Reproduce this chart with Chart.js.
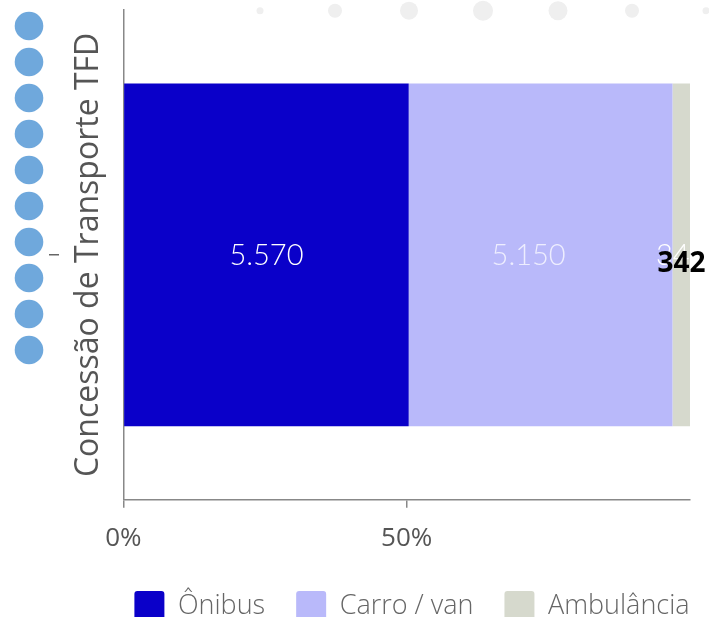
<!DOCTYPE html>
<html>
<head>
<meta charset="utf-8">
<script src="https://cdn.jsdelivr.net/npm/chart.js@4/dist/chart.umd.min.js"></script>
<style>
  html, body { margin: 0; padding: 0; background: #fff; }
  #wrap { width: 709px; height: 617px; position: relative; overflow: hidden; }
</style>
</head>
<body>
<div id="wrap"><canvas id="chart"></canvas></div>
<script>
const categories = ['Concessão de Transporte TFD'];
const seriesNames = ['Ônibus', 'Carro / van', 'Ambulância'];
const onibus = [5570];
const carroVan = [5150];
const ambulancia = [342];
const xTickValues = [0, 50];

const colors = ['#0a00c9', '#b9b9fa', '#d6d9cd'];
const raw = [onibus, carroVan, ambulancia];
const totals = categories.map((c, i) => raw.reduce((s, arr) => s + arr[i], 0));

const fmt = v => v.toLocaleString('pt-BR');

// decorations: blue dots column, grey dots on top, tiny dash
const decor = {
  id: 'decor',
  beforeDraw(chart) {
    const ctx = chart.ctx;
    ctx.save();
    ctx.fillStyle = '#6fa8dc';
    for (let i = 0; i < 10; i++) {
      ctx.beginPath();
      ctx.arc(29, 26 + i * 36, 14.3, 0, Math.PI * 2);
      ctx.fill();
    }
    ctx.fillStyle = '#efefef';
    const greys = [[260, 3.5], [335, 7], [409, 9], [483, 10], [558, 9.5], [632, 7], [706, 3.5]];
    greys.forEach(g => {
      ctx.beginPath();
      ctx.arc(g[0], 10.7, g[1], 0, Math.PI * 2);
      ctx.fill();
    });
    ctx.fillStyle = '#666';
    ctx.fillRect(49, 254, 10, 1.5);
    ctx.restore();
  }
};

// move the legend up and to the right, like in the original
const legendShift = {
  id: 'legendShift',
  afterLayout(chart) {
    chart.legend.top -= 9;
    chart.legend.bottom -= 9;
    chart.legend.left += 32;
    chart.legend.right += 32;
  }
};

// value labels on the bars
const valueLabels = {
  id: 'valueLabels',
  afterDatasetsDraw(chart) {
    const ctx = chart.ctx;
    ctx.save();
    chart.data.datasets.forEach((ds, di) => {
      const meta = chart.getDatasetMeta(di);
      meta.data.forEach((bar, i) => {
        const v = raw[di][i];
        const cx = (bar.x + bar.base) / 2;
        ctx.font = '300 29px Lato';
        ctx.textAlign = 'center';
        ctx.textBaseline = 'middle';
        ctx.fillStyle = di === 1 ? 'rgba(255,255,255,0.75)' : '#ffffff';
        ctx.fillText(fmt(v), cx - (di === 1 ? 12 : 0), bar.y + 1);
        if (di === 2) {
          ctx.font = 'bold 28px "Open Sans"';
          ctx.textAlign = 'left';
          ctx.fillStyle = '#000';
          ctx.fillText(fmt(v), bar.base - 15, bar.y + 9);
        }
      });
    });
    ctx.restore();
  }
};

new Chart(document.getElementById('chart'), {
  type: 'bar',
  data: {
    labels: categories,
    datasets: seriesNames.map((name, di) => ({
      label: name,
      data: raw[di].map((v, i) => v / totals[i] * 100),
      backgroundColor: colors[di],
      borderWidth: 0,
      barPercentage: 0.7,
      categoryPercentage: 1
    }))
  },
  options: {
    indexAxis: 'y',
    responsive: true,
    maintainAspectRatio: false,
    animation: false,
    layout: { padding: { left: 70, right: 19, top: 10, bottom: -23 } },
    plugins: {
      tooltip: { enabled: false },
      legend: {
        position: 'bottom',
        labels: {
          color: '#666',
          font: { family: 'Open Sans', size: 27, weight: '300' },
          boxWidth: 30,
          boxHeight: 30,
          useBorderRadius: true,
          borderRadius: 3,
          padding: 31
        }
      }
    },
    scales: {
      x: {
        stacked: true,
        min: 0,
        max: 100,
        afterBuildTicks(axis) {
          axis.ticks = xTickValues.map(v => ({ value: v }));
        },
        ticks: {
          color: '#555',
          font: { family: 'Open Sans', size: 26 },
          padding: 15,
          callback: v => v + '%'
        },
        grid: { drawOnChartArea: false, tickLength: 8, color: '#888', lineWidth: 1.5 },
        border: { color: '#888', width: 1.5 }
      },
      y: {
        stacked: true,
        ticks: { display: false },
        grid: { display: false },
        border: { color: '#888', width: 1.5 },
        title: {
          display: true,
          text: categories[0],
          color: '#555',
          font: { family: 'Open Sans', size: 32 },
          padding: { top: 0, bottom: 7 }
        }
      }
    }
  },
  plugins: [decor, legendShift, valueLabels]
});
</script>
</body>
</html>
